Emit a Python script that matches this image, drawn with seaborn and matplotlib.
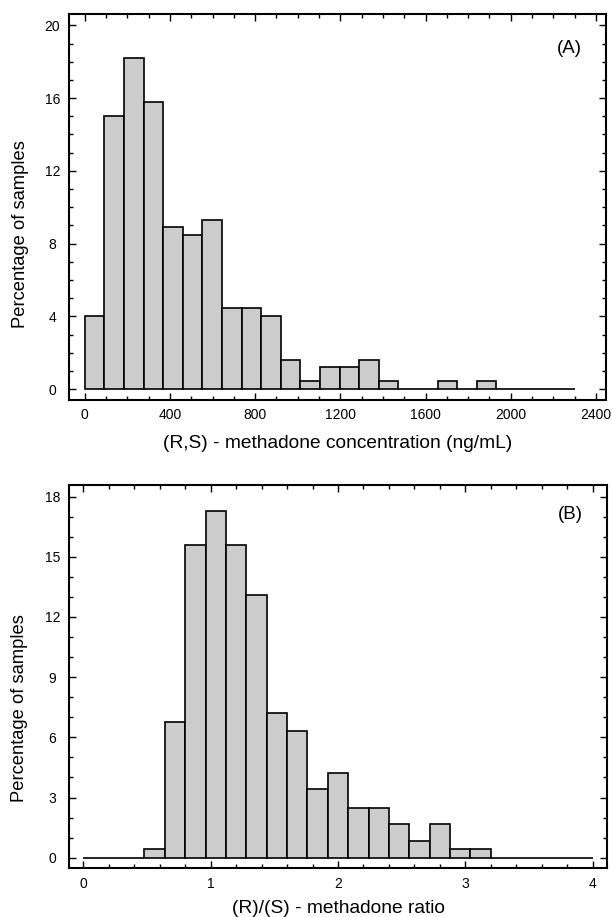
import matplotlib
matplotlib.use('Agg')
import matplotlib.pyplot as plt
import numpy as np
import pandas as pd
import seaborn as sns
from matplotlib.ticker import MultipleLocator

## Data (percentage of samples per bin)
conc_start = 0
conc_bin_width = 92
conc_pct = [4.0, 15.0, 18.2, 15.8, 8.9, 8.5, 9.3, 4.45, 4.45, 4.0,
            1.6, 0.45, 1.2, 1.2, 1.6, 0.45, 0, 0, 0.45, 0,
            0.45, 0, 0, 0, 0]

ratio_start = 0
ratio_bin_width = 0.16
ratio_pct = [0, 0, 0, 0.42, 6.75, 15.6, 17.3, 15.6, 13.1, 7.2,
             6.3, 3.4, 4.2, 2.5, 2.5, 1.7, 0.85, 1.7, 0.42, 0.42,
             0, 0, 0, 0, 0]

conc_xticks = [0, 400, 800, 1200, 1600, 2000, 2400]
conc_yticks = [0, 4, 8, 12, 16, 20]
ratio_xticks = [0, 1, 2, 3, 4]
ratio_yticks = [0, 3, 6, 9, 12, 15, 18]

sns.set_style('ticks')
plt.rcParams['font.family'] = ['Liberation Sans', 'DejaVu Sans']
for k in ['text.color', 'axes.labelcolor', 'xtick.color', 'ytick.color']:
    plt.rcParams[k] = 'black'

fig = plt.figure(figsize=(6.12, 9.17), dpi=100)
ax1 = fig.add_axes([0.1127, 0.5638, 0.8775, 0.4209])
ax2 = fig.add_axes([0.1127, 0.0531, 0.8796, 0.4180])


def draw_hist(ax, start, width, pct):
    n = len(pct)
    centers = start + width * (np.arange(n) + 0.5)
    df = pd.DataFrame({'x': centers, 'w': pct})
    sns.histplot(data=df, x='x', weights='w', binwidth=width,
                 binrange=(start, start + width * n), stat='count',
                 color='#cccccc', edgecolor='black', linewidth=1.2,
                 alpha=1, ax=ax)


def style_axes(ax, xminor, yminor, xpad):
    ax.xaxis.set_minor_locator(MultipleLocator(xminor))
    ax.yaxis.set_minor_locator(MultipleLocator(yminor))
    ax.tick_params(which='both', direction='in', top=True, right=True,
                   width=1, color='black', labelsize=10)
    ax.tick_params(which='major', length=5)
    ax.tick_params(which='minor', length=2.7)
    ax.tick_params(axis='x', which='major', pad=xpad)
    ax.tick_params(axis='y', which='major', pad=12)
    for lab in ax.get_yticklabels():
        lab.set_horizontalalignment('center')
    for s in ax.spines.values():
        s.set_linewidth(1.5)
        s.set_color('black')


# (A) concentration
draw_hist(ax1, conc_start, conc_bin_width, conc_pct)
ax1.set_xticks(conc_xticks)
ax1.set_yticks(conc_yticks)
ax1.set_xlim(-74, 2447)
ax1.set_ylim(-0.59, 20.62)
style_axes(ax1, 100, 1, 5.5)
ax1.set_xlabel('(R,S) - methadone concentration (ng/mL)', fontsize=13.8, va='center')
ax1.xaxis.set_label_coords(0.5, -0.114)
ax1.set_ylabel('Percentage of samples', fontsize=13.2, va='center')
ax1.yaxis.set_label_coords(-0.091, 0.43)
ax1.text(0.955, 0.910, '(A)', transform=ax1.transAxes, ha='right', va='center',
         fontsize=13.5)

# (B) ratio
draw_hist(ax2, ratio_start, ratio_bin_width, ratio_pct)
ax2.set_xticks(ratio_xticks)
ax2.set_yticks(ratio_yticks)
ax2.set_xlim(-0.112, 4.114)
ax2.set_ylim(-0.53, 18.58)
style_axes(ax2, 0.2, 1, 6.5)
ax2.set_xlabel('(R)/(S) - methadone ratio', fontsize=13.8, va='center')
ax2.xaxis.set_label_coords(0.5, -0.104)
ax2.set_ylabel('Percentage of samples', fontsize=13.2, va='center')
ax2.yaxis.set_label_coords(-0.091, 0.418)
ax2.text(0.955, 0.922, '(B)', transform=ax2.transAxes, ha='right', va='center',
         fontsize=13.5)

plt.savefig('out.png', dpi=100)
